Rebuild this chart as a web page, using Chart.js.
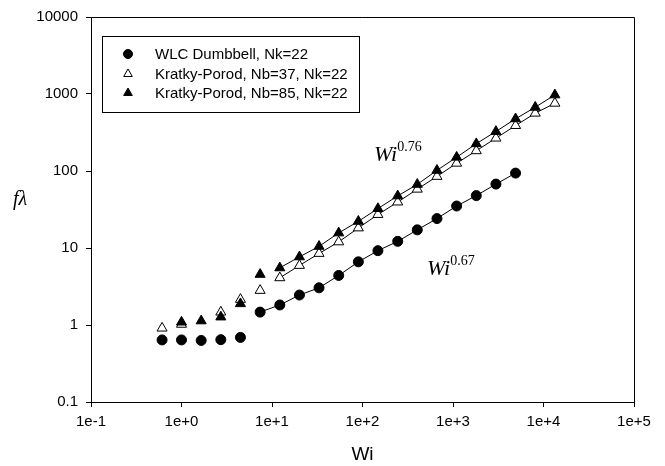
<!DOCTYPE html>
<html>
<head>
<meta charset="utf-8">
<script src="https://cdn.jsdelivr.net/npm/chart.js@4/dist/chart.umd.min.js"></script>
<style>
  body { margin: 0; background: #fff; }
  #wrap { width: 665px; height: 466px; }
</style>
</head>
<body>
<div id="wrap"><canvas id="chart" width="665" height="466"></canvas></div>
<script>
// Wi values (x), shared by all series
const wi = [0.61, 1.0, 1.65, 2.72, 4.48, 7.39, 12.2, 20.1, 33.1, 54.6, 90.0, 148, 245, 403, 665, 1097, 1808, 2981, 4915, 8103, 13360];

// f*lambda values (null = no marker)
const wlcDumbbell = [0.64, 0.64, 0.63, 0.645, 0.69, 1.47, 1.82, 2.45, 3.04, 4.40, 6.61, 9.23, 12.2, 17.2, 24.1, 35.1, 47.9, 67.6, 93.9];
const kp37 = [0.91, 1.02, null, 1.47, 2.15, 2.81, 4.10, 5.93, 8.49, 12.0, 18.2, 27.2, 39.5, 58.0, 85.0, 126, 183, 267, 389, 563, 758];
const kp85 = [null, 1.09, 1.13, 1.27, 1.89, 4.54, 5.52, 7.67, 10.5, 15.7, 22.2, 32.5, 47.5, 67.0, 102, 151, 226, 326, 476, 673, 973];

// index where the connecting line begins for each series
const lineStart = { wlc: 5, kp37: 6, kp85: 6 };

const seriesLabels = ['WLC Dumbbell, Nk=22', 'Kratky-Porod, Nb=37, Nk=22', 'Kratky-Porod, Nb=85, Nk=22'];

const xTicks = [0.1, 1, 10, 100, 1000, 10000, 100000];
const xTickLabels = ['1e-1', '1e+0', '1e+1', '1e+2', '1e+3', '1e+4', '1e+5'];
const yTicks = [0.1, 1, 10, 100, 1000, 10000];
const yTickLabels = ['0.1', '1', '10', '100', '1000', '10000'];

const toPoints = ys => ys.map((y, i) => ({ x: wi[i], y: y }));
const segFrom = start => ({ borderColor: ctx => ctx.p0DataIndex < start ? 'transparent' : '#000' });

const sans = 'Liberation Sans, Arial, sans-serif';
const serif = 'Liberation Serif, Times New Roman, serif';

function drawMarker(ctx, style, filled, x, y, r) {
    ctx.beginPath();
    if (style === 'circle') {
        ctx.arc(x, y, r, 0, Math.PI * 2);
    } else {
        ctx.moveTo(x, y - r);
        ctx.lineTo(x + r * 0.866, y + r * 0.5);
        ctx.lineTo(x - r * 0.866, y + r * 0.5);
        ctx.closePath();
    }
    ctx.fillStyle = filled ? '#000' : '#fff';
    ctx.fill();
    ctx.lineWidth = 1;
    ctx.strokeStyle = '#000';
    ctx.stroke();
}

const extras = {
    id: 'extras',
    afterDraw(chart) {
        const ctx = chart.ctx;
        const a = chart.chartArea;
        ctx.save();

        // top and right frame
        ctx.strokeStyle = '#000';
        ctx.lineWidth = 1;
        ctx.beginPath();
        ctx.moveTo(a.left, a.top + 0.5);
        ctx.lineTo(a.right + 0.5, a.top + 0.5);
        ctx.lineTo(a.right + 0.5, a.bottom);
        ctx.stroke();

        // legend box
        ctx.strokeRect(102.5, 36.5, 257, 76);
        const rows = [54, 74, 93];
        const styles = [['circle', true], ['triangle', false], ['triangle', true]];
        ctx.font = '15px ' + sans;
        ctx.textBaseline = 'middle';
        ctx.textAlign = 'left';
        rows.forEach((ry, i) => {
            drawMarker(ctx, styles[i][0], styles[i][1], 128, ry, styles[i][0] === 'circle' ? 4.5 : 5);
            ctx.fillStyle = '#000';
            ctx.fillText(seriesLabels[i], 155, ry + 1);
        });

        // power-law annotations
        ctx.textBaseline = 'alphabetic';
        ctx.fillStyle = '#000';
        const annot = (x, y, exp) => {
            ctx.font = 'italic 22px ' + serif;
            ctx.fillText('Wi', x, y);
            const w = ctx.measureText('Wi').width;
            ctx.font = '14px ' + serif;
            ctx.fillText(exp, x + w, y - 10);
        };
        annot(374, 161, '0.76');
        annot(427, 275, '0.67');

        // y axis title
        ctx.font = 'italic 20px ' + serif;
        ctx.fillText('f\u03bb', 13, 205);
        ctx.restore();
    }
};

new Chart(document.getElementById('chart').getContext('2d'), {
    type: 'scatter',
    data: {
        datasets: [
            {
                label: seriesLabels[2], data: toPoints(kp85), order: 0,
                showLine: true, borderWidth: 1, borderColor: '#000', segment: segFrom(lineStart.kp85),
                pointStyle: 'triangle', pointRadius: 5.8, pointBackgroundColor: '#000', pointBorderColor: '#000', pointBorderWidth: 1
            },
            {
                label: seriesLabels[1], data: toPoints(kp37), order: 1,
                showLine: true, borderWidth: 1, borderColor: '#000', segment: segFrom(lineStart.kp37),
                pointStyle: 'triangle', pointRadius: 5.8, pointBackgroundColor: '#fff', pointBorderColor: '#000', pointBorderWidth: 1
            },
            {
                label: seriesLabels[0], data: toPoints(wlcDumbbell), order: 2,
                showLine: true, borderWidth: 1, borderColor: '#000', segment: segFrom(lineStart.wlc),
                pointStyle: 'circle', pointRadius: 5, pointBackgroundColor: '#000', pointBorderColor: '#000', pointBorderWidth: 1
            }
        ]
    },
    options: {
        responsive: false,
        animation: false,
        devicePixelRatio: 1,
        layout: { padding: { left: 0, right: 31, top: 16, bottom: 0 } },
        plugins: { legend: { display: false }, tooltip: { enabled: false } },
        scales: {
            x: {
                type: 'logarithmic', min: 0.1, max: 100000,
                afterBuildTicks: s => { s.ticks = xTicks.map(v => ({ value: v })); },
                afterFit: s => { s.height = 64; },
                ticks: {
                    callback: (v, i) => xTickLabels[i], autoSkip: false, maxRotation: 0,
                    color: '#000', font: { family: sans, size: 15 }, padding: 6
                },
                grid: { drawOnChartArea: false, tickLength: 5, color: '#000' },
                border: { color: '#000', width: 1 },
                title: { display: true, text: 'Wi', color: '#000', font: { family: sans, size: 19 }, padding: 0 }
            },
            y: {
                type: 'logarithmic', min: 0.1, max: 10000,
                afterBuildTicks: s => { s.ticks = yTicks.map(v => ({ value: v })); },
                afterFit: s => { s.width = 91; },
                ticks: {
                    callback: (v, i) => yTickLabels[i], autoSkip: false,
                    color: '#000', font: { family: sans, size: 15 }, padding: 8
                },
                grid: { drawOnChartArea: false, tickLength: 5, color: '#000' },
                border: { color: '#000', width: 1 }
            }
        }
    },
    plugins: [extras]
});
</script>
</body>
</html>
